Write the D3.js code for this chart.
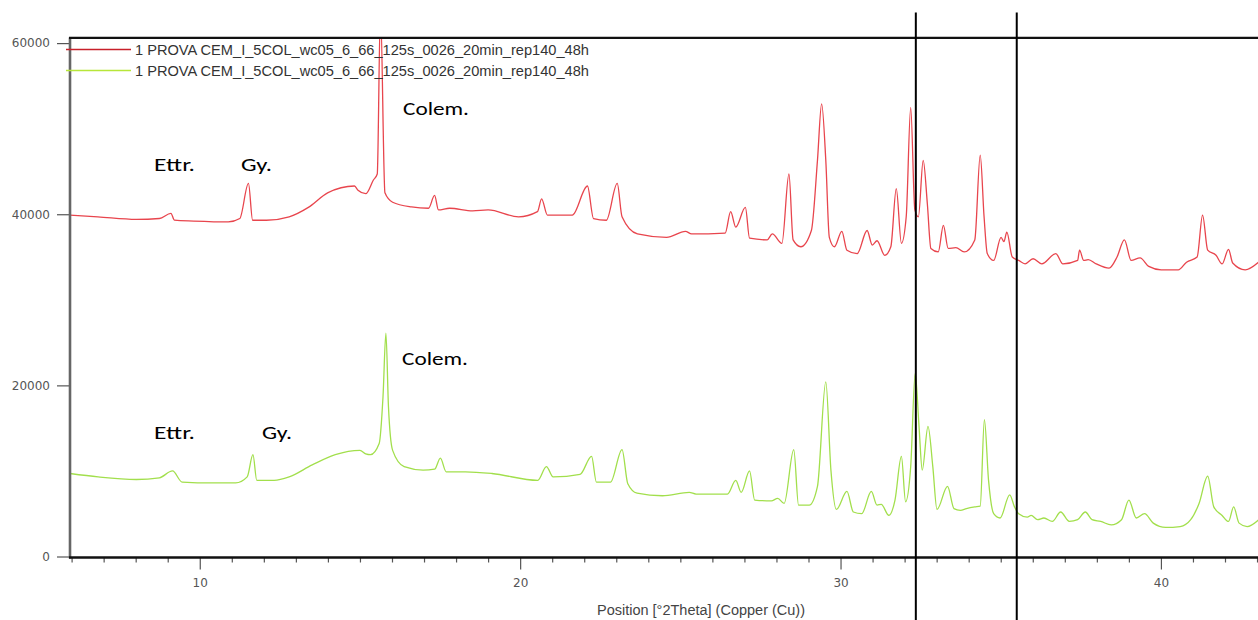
<!DOCTYPE html>
<html>
<head>
<meta charset="utf-8">
<script src="https://cdn.jsdelivr.net/npm/d3@7"></script>
<style>
  html, body { margin: 0; padding: 0; background: #fff; }
  svg { display: block; }
</style>
</head>
<body>
<svg id="chart" width="1258" height="620"></svg>
<script>
// ---- Data ---------------------------------------------------------------
const sampleNames = [
  "1 PROVA CEM_I_5COL_wc05_6_66_125s_0026_20min_rep140_48h",
  "1 PROVA CEM_I_5COL_wc05_6_66_125s_0026_20min_rep140_48h"
];
const axisTitle = "Position [°2Theta] (Copper (Cu))";
const xMajorTicks = [10, 20, 30, 40];
const yTicks = [0, 20000, 40000, 60000];
const phaseLabels = ["Ettr.", "Gy.", "Colem."];
const referenceLines = [32.35, 35.50];   // °2θ

// upper pattern (red)
const redTheta = [
  5.95, 6.82, 8.02, 8.74, 9.10, 9.21, 9.81, 10.89, 11.25, 11.52,
  11.65, 12.08, 12.79, 13.39, 13.99, 14.83, 14.94, 15.18, 15.42, 15.54,
  15.64, 15.78, 16.02, 16.61, 17.14, 17.33, 17.45, 17.80, 18.52, 19.00,
  19.95, 20.54, 20.67, 20.85, 21.63, 22.10, 22.29, 22.69, 23.03, 23.18,
  23.66, 24.57, 25.16, 25.35, 26.40, 26.57, 26.73, 27.03, 27.16, 27.71,
  27.87, 28.17, 28.39, 28.52, 28.76, 29.09, 29.28, 29.41, 29.54, 29.65,
  29.81, 30.04, 30.20, 30.52, 30.83, 30.99, 31.14, 31.38, 31.57, 31.74,
  31.90, 32.05, 32.19, 32.32, 32.43, 32.58, 32.71, 32.82, 33.05, 33.21,
  33.36, 33.60, 33.86, 34.19, 34.36, 34.48, 34.58, 34.78, 35.01, 35.10,
  35.19, 35.36, 35.56, 35.76, 36.01, 36.28, 36.72, 36.94, 37.40, 37.46,
  37.59, 37.73, 37.98, 38.38, 38.63, 38.86, 39.07, 39.35, 39.62, 40.01,
  40.54, 40.80, 41.13, 41.30, 41.46, 41.72, 41.91, 42.11, 42.24, 42.63,
  43.05
];
const redCounts = [
  39900, 39700, 39400, 39500, 40100, 39300, 39200, 39100, 39500, 43600,
  39300, 39300, 39700, 40800, 42500, 43300, 42800, 42400, 44000, 44700,
  64000, 42500, 41400, 40850, 40700, 42200, 40500, 40700, 40400, 40500,
  39700, 40300, 41800, 39900, 39900, 43300, 39500, 39300, 43600, 39700,
  37700, 37300, 38000, 37700, 37800, 40300, 38500, 40800, 37200, 37000,
  37700, 36600, 44700, 37000, 36200, 38100, 46300, 52900, 46300, 37300,
  36200, 38000, 35800, 35400, 38100, 36400, 36900, 35200, 36200, 43000,
  36600, 39700, 52500, 40500, 39700, 46300, 41200, 36000, 35600, 38700,
  36000, 36100, 35600, 37000, 46900, 39700, 35400, 34600, 37300, 36800,
  37900, 35000, 34600, 34200, 34800, 34200, 35400, 34200, 34600, 35800,
  34600, 34700, 34200, 33700, 35000, 37000, 34600, 34900, 33900, 33500,
  33500, 34400, 35000, 39900, 35800, 35200, 34200, 35900, 34300, 33500,
  34400
];

// lower pattern (green)
const greenTheta = [
  5.95, 6.83, 8.02, 8.74, 9.15, 9.45, 10.41, 11.12, 11.48, 11.66,
  11.78, 12.32, 12.79, 13.51, 14.23, 15.00, 15.18, 15.33, 15.60, 15.72,
  15.81, 15.89, 16.02, 16.38, 16.97, 17.33, 17.51, 17.69, 18.29, 19.12,
  20.55, 20.82, 21.03, 21.87, 22.23, 22.38, 22.82, 23.18, 23.36, 23.65,
  24.44, 25.28, 25.49, 26.47, 26.73, 26.90, 27.16, 27.32, 27.84, 28.04,
  28.24, 28.54, 28.69, 29.02, 29.28, 29.54, 29.70, 29.87, 30.20, 30.40,
  30.66, 30.96, 31.14, 31.27, 31.51, 31.70, 31.90, 32.03, 32.19, 32.33,
  32.45, 32.55, 32.73, 32.88, 33.01, 33.34, 33.54, 33.74, 33.93, 34.19,
  34.36, 34.49, 34.62, 34.78, 34.98, 35.28, 35.43, 35.56, 35.83, 35.95,
  36.15, 36.35, 36.61, 36.87, 37.14, 37.40, 37.64, 37.85, 38.12, 38.45,
  38.77, 39.00, 39.23, 39.49, 39.76, 40.15, 40.60, 40.93, 41.19, 41.46,
  41.65, 41.91, 42.11, 42.27, 42.44, 42.69, 43.05
];
const greenCounts = [
  9700, 9300, 9000, 9200, 10000, 8700, 8600, 8600, 9300, 11900,
  8900, 8900, 9300, 10700, 11900, 12400, 12000, 11900, 13200, 18700,
  26100, 17500, 12400, 10500, 10100, 10200, 11500, 9900, 9900, 9700,
  8900, 10500, 9300, 9600, 11700, 8700, 8700, 12500, 8500, 7400,
  7100, 7500, 7300, 7300, 8900, 7500, 10000, 6600, 6500, 6800,
  6200, 12500, 6000, 6000, 8200, 20400, 10100, 5500, 7600, 5200,
  5000, 7600, 6000, 6100, 4800, 6600, 11700, 6400, 10500, 21400,
  15200, 10100, 15200, 10500, 5500, 8200, 5600, 5400, 5600, 5800,
  5900, 16000, 8900, 5000, 4500, 7200, 5800, 5000, 4600, 4800,
  4300, 4500, 4100, 5200, 4100, 4300, 5200, 4300, 4100, 3700,
  4300, 6600, 4500, 5000, 3900, 3400, 3500, 4300, 6200, 9400,
  5800, 4800, 4100, 5800, 3900, 3500, 4300
];

// ---- Layout -------------------------------------------------------------
const plot = { left: 70, right: 1258, top: 38.4, bottom: 556.5 };
const seriesColors = ["#e8454d", "#a2df4c"];
const tickColor = "#555";
const tickFont = "'DejaVu Sans', sans-serif";
const narrowFont = "'Liberation Sans Narrow', 'Arial Narrow', 'Liberation Sans', sans-serif";

const svg = d3.select("#chart");

const x = d3.scaleLinear().domain([5.95, 43.03]).range([plot.left, plot.right]);
const y = d3.scaleLinear().domain([0, 60550]).range([plot.bottom, plot.top]);

svg.append("defs").append("clipPath").attr("id", "plot-clip")
  .append("rect")
  .attr("x", plot.left).attr("y", plot.top)
  .attr("width", plot.right - plot.left).attr("height", plot.bottom - plot.top + 1);

// ---- Patterns -----------------------------------------------------------
const line = d3.line()
  .x(d => x(d[0]))
  .y(d => y(d[1]))
  .curve(d3.curveMonotoneX);
const patterns = [
  d3.zip(redTheta, redCounts),
  d3.zip(greenTheta, greenCounts)
];
const curves = svg.append("g").attr("clip-path", "url(#plot-clip)");
patterns.forEach((pts, i) => {
  curves.append("path")
    .datum(pts)
    .attr("d", line)
    .attr("fill", "none")
    .attr("stroke", seriesColors[i])
    .attr("stroke-width", 1.3)
    .attr("stroke-linejoin", "round");
});

// ---- Axes ---------------------------------------------------------------
const xMajor = svg.append("g")
  .attr("transform", `translate(0,${plot.bottom + 1})`)
  .call(d3.axisBottom(x).tickValues(xMajorTicks).tickSize(12).tickPadding(9).tickFormat(d3.format("d")));
const minorVals = d3.range(6, 44).filter(v => v % 10 !== 0);
const xMinor = svg.append("g")
  .attr("transform", `translate(0,${plot.bottom + 1})`)
  .call(d3.axisBottom(x).tickValues(minorVals).tickSize(5).tickFormat(""));
const yAxis = svg.append("g")
  .attr("transform", `translate(${plot.left},0)`)
  .call(d3.axisLeft(y).tickValues(yTicks).tickSize(13).tickPadding(7).tickFormat(d3.format("d")));

[xMajor, xMinor, yAxis].forEach(g => {
  g.select(".domain").remove();
  g.selectAll(".tick line").attr("stroke", tickColor).attr("stroke-width", 1.2);
  g.selectAll(".tick text")
    .attr("fill", tickColor)
    .style("font-family", tickFont)
    .style("font-size", "12px");
});

// frame: left axis, bottom axis, top border
svg.append("line")
  .attr("x1", plot.left).attr("x2", plot.left)
  .attr("y1", plot.top - 1).attr("y2", plot.bottom + 2)
  .attr("stroke", "#666").attr("stroke-width", 2.6);
svg.append("line")
  .attr("x1", plot.left - 1).attr("x2", plot.right)
  .attr("y1", plot.bottom + 1).attr("y2", plot.bottom + 1)
  .attr("stroke", "#111").attr("stroke-width", 2.4);
svg.append("line")
  .attr("x1", plot.left - 1).attr("x2", plot.right)
  .attr("y1", plot.top - 0.5).attr("y2", plot.top - 0.5)
  .attr("stroke", "#111").attr("stroke-width", 2.2);

// axis title
svg.append("text")
  .attr("x", 597).attr("y", 615)
  .attr("textLength", 208).attr("lengthAdjust", "spacingAndGlyphs")
  .attr("fill", "#444")
  .style("font-family", narrowFont)
  .style("font-size", "14px")
  .text(axisTitle);

// ---- Legend -------------------------------------------------------------
const legendRows = [49.5, 70.5];
sampleNames.forEach((name, i) => {
  svg.append("line")
    .attr("x1", 66).attr("x2", 131)
    .attr("y1", legendRows[i]).attr("y2", legendRows[i])
    .attr("stroke", i === 0 ? "#c8202a" : "#b7e63a")
    .attr("stroke-width", 1.3);
  svg.append("text")
    .attr("x", 135).attr("y", legendRows[i] + 5)
    .attr("textLength", 454).attr("lengthAdjust", "spacingAndGlyphs")
    .attr("fill", "#333")
    .style("font-family", narrowFont)
    .style("font-size", "15px")
    .text(name);
});

// ---- Phase labels -------------------------------------------------------
const labelSpots = [
  { label: 0, x: 154, y: 171, w: 41 },
  { label: 1, x: 241, y: 171, w: 31 },
  { label: 2, x: 403, y: 115, w: 66 },
  { label: 0, x: 154, y: 439, w: 41 },
  { label: 1, x: 262, y: 439, w: 30 },
  { label: 2, x: 402, y: 365, w: 66 }
];
svg.append("g").selectAll("text")
  .data(labelSpots)
  .join("text")
  .attr("x", d => d.x).attr("y", d => d.y)
  .attr("textLength", d => d.w).attr("lengthAdjust", "spacingAndGlyphs")
  .attr("fill", "#000")
  .style("font-family", "Carlito, Calibri, Lato, sans-serif")
  .style("font-size", "18px")
  .text(d => phaseLabels[d.label]);

// ---- Reference lines ----------------------------------------------------
svg.append("g").selectAll("line")
  .data(referenceLines)
  .join("line")
  .attr("x1", d => x(d)).attr("x2", d => x(d))
  .attr("y1", 12.5).attr("y2", 620)
  .attr("stroke", "#000").attr("stroke-width", 2);
</script>
</body>
</html>
